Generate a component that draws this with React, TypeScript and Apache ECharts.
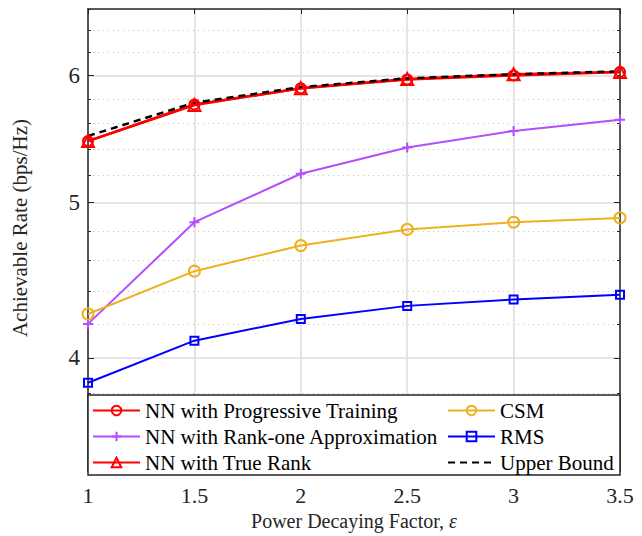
import React, { useEffect, useRef } from "react";
import * as echarts from "echarts";

const xValues = [1, 1.5, 2, 2.5, 3, 3.5];
const nnProgressive = [5.46, 5.755, 5.89, 5.965, 6.0, 6.03];
const nnRankOne = [4.2, 4.86, 5.21, 5.41, 5.54, 5.63];
const nnTrueRank = [5.46, 5.75, 5.89, 5.97, 6.01, 6.03];
const csm = [4.26, 4.53, 4.7, 4.81, 4.86, 4.89];
const rms = [3.86, 4.1, 4.23, 4.31, 4.35, 4.38];
const upperBound = [5.5, 5.77, 5.9, 5.975, 6.01, 6.035];

const yMajorTicks = [4, 5, 6];
const yMinorTicks = [3.4, 3.6, 3.8, 4.2, 4.4, 4.6, 4.8, 5.2, 5.4, 5.6, 5.8, 6.2, 6.4, 6.6];

const legendLeft = ["NN with Progressive Training", "NN with Rank-one Approximation", "NN with True Rank"];
const legendRight = ["CSM", "RMS", "Upper Bound"];

const FONT = "'Liberation Serif', 'Times New Roman', serif";
const DARK = "#262626";

const pairs = (ys: number[]) => xValues.map((x, i) => [x, ys[i]]);

export default function App() {
  const ref = useRef<HTMLDivElement>(null);
  useEffect(() => {
    if (!ref.current) return;
    const chart = echarts.init(ref.current, null, { renderer: "svg" });
    const yBase = {
      type: "log" as const,
      min: 3.4,
      max: 6.6,
      logBase: 10,
    };
    const legendCommon = {
      orient: "vertical",
      top: 400,
      padding: 0,
      itemGap: 5,
      itemWidth: 47,
      itemHeight: 12,
      selectedMode: false,
      textStyle: { fontFamily: FONT, fontSize: 21, color: "#000", lineHeight: 21 },
      z: 5,
    };
    const option: any = {
      animation: false,
      backgroundColor: "#ffffff",
      grid: { left: 88, right: 22, top: 9, bottom: 61, containLabel: false },
      xAxis: [
        {
          type: "value",
          min: 1,
          max: 3.5,
          interval: 0.5,
          position: "bottom",
          name: "Power Decaying Factor, {e|ε}",
          nameLocation: "middle",
          nameGap: 37,
          nameTextStyle: {
            fontFamily: FONT,
            fontSize: 20,
            color: DARK,
            rich: { e: { fontFamily: FONT, fontStyle: "italic", fontSize: 20, color: DARK } },
          },
          axisLine: { show: true, onZero: false, lineStyle: { color: DARK, width: 1.5 } },
          axisTick: { show: true, inside: true, length: 5, lineStyle: { color: DARK, width: 1 } },
          axisLabel: { fontFamily: FONT, fontSize: 22, color: DARK, margin: 13 },
          splitLine: { show: true, lineStyle: { color: "#dcdcdc", width: 1.5 } },
        },
        {
          type: "value",
          min: 1,
          max: 3.5,
          interval: 0.5,
          position: "top",
          axisLine: { show: true, onZero: false, lineStyle: { color: DARK, width: 1.5 } },
          axisTick: { show: true, inside: true, length: 5, lineStyle: { color: DARK, width: 1 } },
          axisLabel: { show: false },
          splitLine: { show: false },
        },
      ],
      yAxis: [
        {
          ...yBase,
          position: "left",
          name: "Achievable Rate (bps/Hz)",
          nameLocation: "middle",
          nameGap: 58,
          nameTextStyle: { fontFamily: FONT, fontSize: 21, color: DARK, padding: [0, 0, 0, 24] },
          axisLine: { show: true, onZero: false, lineStyle: { color: DARK, width: 1.5 } },
          axisTick: { show: true, inside: true, length: 6, customValues: yMajorTicks, lineStyle: { color: DARK, width: 1 } },
          axisLabel: { fontFamily: FONT, fontSize: 23, color: DARK, margin: 8, customValues: yMajorTicks },
          splitLine: { show: true, lineStyle: { color: "#dcdcdc", width: 1.5 } },
        },
        {
          ...yBase,
          position: "left",
          axisLine: { show: false },
          axisTick: { show: true, inside: true, length: 3, customValues: yMinorTicks, lineStyle: { color: DARK, width: 1 } },
          axisLabel: { show: false },
          splitLine: { show: true, lineStyle: { color: "#bdbdbd", width: 1, type: [1, 4] } },
        },
        {
          ...yBase,
          position: "right",
          axisLine: { show: true, onZero: false, lineStyle: { color: DARK, width: 1.5 } },
          axisTick: { show: true, inside: true, length: 6, customValues: yMajorTicks, lineStyle: { color: DARK, width: 1 } },
          axisLabel: { show: false },
          splitLine: { show: false },
        },
        {
          ...yBase,
          position: "right",
          axisLine: { show: false },
          axisTick: { show: true, inside: true, length: 3, customValues: yMinorTicks, lineStyle: { color: DARK, width: 1 } },
          axisLabel: { show: false },
          splitLine: { show: false },
        },
      ],
      legend: [
        { ...legendCommon, data: legendLeft, left: 92 },
        { ...legendCommon, data: legendRight, left: 447 },
      ],
      graphic: [
        {
          type: "rect",
          z: 3,
          shape: { x: 88, y: 395, width: 532, height: 80 },
          style: { fill: "#ffffff", stroke: DARK, lineWidth: 1.5 },
        },
      ],
      series: [
        {
          name: legendLeft[0],
          type: "line",
          data: pairs(nnProgressive),
          color: "#ff0000",
          symbol: "circle",
          symbolSize: 10,
          lineStyle: { color: "#ff0000", width: 2.5 },
          itemStyle: { color: "transparent", borderColor: "#ff0000", borderWidth: 2 },
          z: 2,
        },
        {
          name: legendLeft[1],
          type: "line",
          data: pairs(nnRankOne),
          color: "#b34dff",
          symbol: "path://M5,0L5,10M0,5L10,5",
          symbolSize: 10,
          lineStyle: { color: "#b34dff", width: 2 },
          itemStyle: { color: "transparent", borderColor: "#b34dff", borderWidth: 2 },
          z: 2,
        },
        {
          name: legendLeft[2],
          type: "line",
          data: pairs(nnTrueRank),
          color: "#ff0000",
          symbol: "triangle",
          symbolSize: 12,
          lineStyle: { color: "#ff0000", width: 2.5 },
          itemStyle: { color: "transparent", borderColor: "#ff0000", borderWidth: 2 },
          z: 2,
        },
        {
          name: legendRight[0],
          type: "line",
          data: pairs(csm),
          color: "#edb120",
          symbol: "circle",
          symbolSize: 11,
          lineStyle: { color: "#edb120", width: 2 },
          itemStyle: { color: "transparent", borderColor: "#edb120", borderWidth: 2 },
          z: 2,
        },
        {
          name: legendRight[1],
          type: "line",
          data: pairs(rms),
          color: "#0000ff",
          symbol: "rect",
          symbolSize: 8,
          lineStyle: { color: "#0000ff", width: 2 },
          itemStyle: { color: "transparent", borderColor: "#0000ff", borderWidth: 2 },
          z: 2,
        },
        {
          name: legendRight[2],
          type: "line",
          data: pairs(upperBound),
          color: "#000000",
          symbol: "circle",
          showSymbol: false,
          lineStyle: { color: "#000000", width: 2.5, type: [7, 5] },
          itemStyle: { color: "transparent", borderColor: "transparent", borderWidth: 0 },
          z: 2,
        },
      ],
    };
    chart.setOption(option);
    return () => chart.dispose();
  }, []);
  return (
    <div
      ref={ref}
      style={{ position: "fixed", left: 0, top: 0, width: 642, height: 536, background: "#fff" }}
    />
  );
}
